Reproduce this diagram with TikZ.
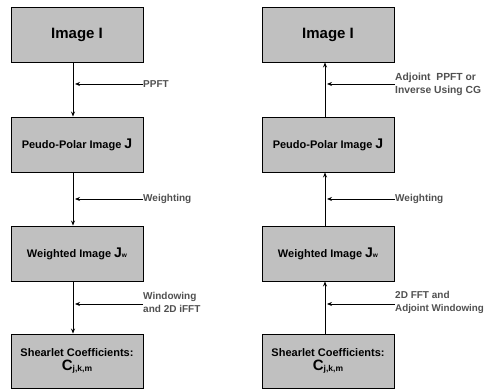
\documentclass[tikz,border=0pt]{standalone}
\usepackage{fontspec}
\setmainfont{Liberation Sans}
\usetikzlibrary{arrows.meta,calc}
\definecolor{boxgray}{HTML}{C0C0C0}
\definecolor{labgray}{HTML}{505050}
\begin{document}
\begin{tikzpicture}[x=1pt,y=-1pt,
  blk/.style={draw=black,line width=0.9pt,fill=boxgray,minimum width=132pt,inner sep=0pt,align=center,font=\bfseries\fontsize{11}{13}\selectfont},
  lab/.style={anchor=west,inner sep=0pt,align=left,text=labgray,font=\bfseries\fontsize{10}{13}\selectfont},
  conn/.style={line width=0.8pt,-{Stealth[length=5pt,width=4pt]}}]
\useasboundingbox (0,0) rectangle (485,390);
% left column
\node[blk,minimum height=55pt] (a1) at (77,34.5) {\fontsize{15}{18}\selectfont Image I};
\node[blk,minimum height=55pt] (a2) at (77,144.5) {Peudo-Polar Image \fontsize{14}{15}\selectfont J};
\node[blk,minimum height=55pt] (a3) at (77,253.5) {Weighted Image {\fontsize{14}{15}\selectfont J}\raisebox{-0.5pt}{\fontsize{6.5}{7}\selectfont w}};
\node[blk,minimum height=54pt] (a4) at (77,361) {Shearlet Coefficients:\\[1pt]{\fontsize{15}{16}\selectfont C}\raisebox{-1.5pt}{\fontsize{8.5}{9}\selectfont j,k,m}};
% right column
\node[blk,minimum height=55pt] (b1) at (328,34.5) {\fontsize{15}{18}\selectfont Image I};
\node[blk,minimum height=55pt] (b2) at (328,144.5) {Peudo-Polar Image \fontsize{14}{15}\selectfont J};
\node[blk,minimum height=55pt] (b3) at (328,253.5) {Weighted Image {\fontsize{14}{15}\selectfont J}\raisebox{-0.5pt}{\fontsize{6.5}{7}\selectfont w}};
\node[blk,minimum height=54pt] (b4) at (328,361) {Shearlet Coefficients:\\[1pt]{\fontsize{15}{16}\selectfont C}\raisebox{-1.5pt}{\fontsize{8.5}{9}\selectfont j,k,m}};
% left vertical connectors (line at x=73)
\draw[conn] ($(a1.south)+(-4,0)$) -- ($(a2.north)+(-4,0)$);
\draw[conn] ($(a2.south)+(-4,0)$) -- ($(a3.north)+(-4,0)$);
\draw[conn] ($(a3.south)+(-4,0)$) -- ($(a4.north)+(-4,0)$);
% right vertical connectors (upwards, line at x=325)
\draw[conn] ($(b2.north)+(-3,0)$) -- ($(b1.south)+(-3,0)$);
\draw[conn] ($(b3.north)+(-3,0)$) -- ($(b2.south)+(-3,0)$);
\draw[conn] ($(b4.north)+(-3,0)$) -- ($(b3.south)+(-3,0)$);
% left labels
\node[lab] (l1) at (143,84) {PPFT};
\node[lab] (l2) at (143,199) {Weighting};
\node[lab] (l3) at (143,302) {Windowing\\and 2D iFFT};
\coordinate (l1e) at (73,84);
\coordinate (l2e) at (73,199);
\coordinate (l3e) at (73,304);
\draw[conn] (l1.west) -- ($(l1e)+(2,0)$);
\draw[conn] (l2.west) -- ($(l2e)+(2,0)$);
\draw[conn] (143,304) -- ($(l3e)+(2,0)$);
% right labels
\node[lab] (r1) at (395,84) {\fontsize{10.3}{13}\selectfont Adjoint\ \ PPFT or\\\fontsize{10.3}{13}\selectfont Inverse Using CG};
\node[lab] (r2) at (395,199) {Weighting};
\node[lab] (r3) at (395,302) {2D FFT and\\\fontsize{9.8}{13}\selectfont Adjoint Windowing};
\coordinate (r1e) at (325,84);
\coordinate (r2e) at (325,199);
\coordinate (r3e) at (325,304);
\draw[conn] (395,84) -- ($(r1e)+(2,0)$);
\draw[conn] (r2.west) -- ($(r2e)+(2,0)$);
\draw[conn] (395,304) -- ($(r3e)+(2,0)$);
\end{tikzpicture}
\end{document}
